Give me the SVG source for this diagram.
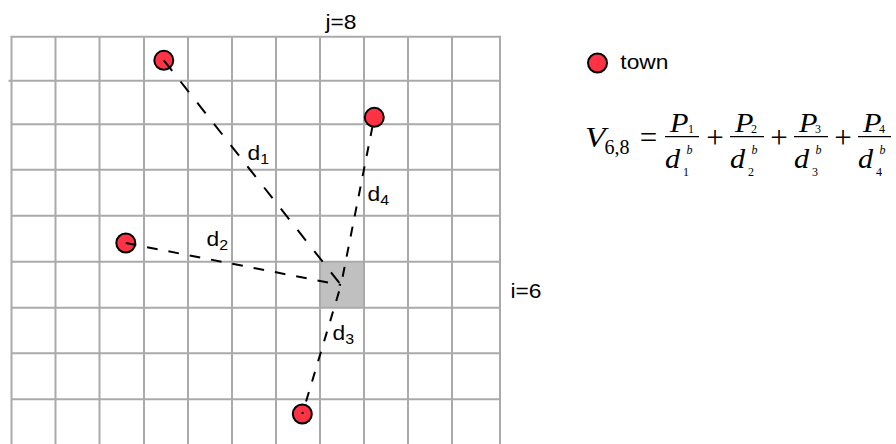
<svg xmlns="http://www.w3.org/2000/svg" width="896" height="444" viewBox="0 0 896 444">
<style>
.grid{stroke:#aaaaaa;stroke-width:2;fill:none}
.town{fill:#ff3344;stroke:#000;stroke-width:2}
.dist{stroke:#000;stroke-width:2;fill:none}
.lbl{font-family:"Liberation Sans",Arial,sans-serif;font-size:20px;fill:#000}
.sub{font-size:14px}
.mi{font-family:"Liberation Serif","Times New Roman",serif;font-style:italic;fill:#000}
.mr{font-family:"Liberation Serif","Times New Roman",serif;fill:#000}
.big{font-size:27px}
.sm{font-size:12px}
.bar{stroke:#000;stroke-width:1.3}
</style>
<rect width="896" height="444" fill="#fff"/>
<g id="grid">
<rect x="320" y="262" width="44" height="46" fill="#c0c0c0"/>
<path class="grid" d="M11.5,36.7V444M55.5,36.7V444M99.5,36.7V444M144,36.7V444M188,36.7V444M232,36.7V444M276,36.7V444M320,36.7V444M364,36.7V444M408,36.7V444M452,36.7V444M500,36.7V444
M10.5,36.7H501M8.5,80.7H501M10.5,124.3H501M10.5,169.7H501M10.5,215.7H501M10.5,261.7H501M10.5,307.7H501M10.5,353.3H501M10.5,399.3H501"/>
</g>
<g id="town1"><circle class="town" cx="163.8" cy="60.3" r="9.5"/></g>
<g id="town2"><circle class="town" cx="125.8" cy="243" r="9.5"/></g>
<g id="town3"><circle class="town" cx="302.3" cy="414" r="9.5"/></g>
<g id="town4"><circle class="town" cx="374.3" cy="117.3" r="9.5"/></g>
<g id="connectors">
<path class="dist" d="M163.8,60.3L341,285" stroke-dasharray="13.5,13.5"/>
<path class="dist" d="M125.8,243L341,285" stroke-dasharray="10.7,11"/>
<path class="dist" d="M302.3,414L341,285" stroke-dasharray="10,11" stroke-dashoffset="8"/>
<path class="dist" d="M374.3,117.3L341,285" stroke-dasharray="10,10.5" stroke-dashoffset="11.5"/>
</g>
<g id="labels">
<text class="lbl" transform="translate(325.5,29.3) scale(1.14,1)">j=8</text>
<text class="lbl" transform="translate(510.5,298) scale(1.14,1)">i=6</text>
<text class="lbl" transform="translate(247.5,159.5) scale(1.14,1)">d<tspan class="sub" dy="4">1</tspan></text>
<text class="lbl" transform="translate(206.6,246) scale(1.14,1)">d<tspan class="sub" dy="4">2</tspan></text>
<text class="lbl" transform="translate(332.6,340) scale(1.14,1)">d<tspan class="sub" dy="4">3</tspan></text>
<text class="lbl" transform="translate(367.6,201) scale(1.14,1)">d<tspan class="sub" dy="4">4</tspan></text>
</g>
<g id="legend">
<circle class="town" cx="597.5" cy="63" r="9.5"/>
<text class="lbl" transform="translate(620.3,69.3) scale(1.14,1)">town</text>
</g>
<g id="formula">
<text class="mi" transform="translate(585,147) scale(1.12,1)" font-size="30">V</text>
<text class="mr" x="604.5" y="154" font-size="20">6,8</text>
<text class="mr" x="648.5" y="147.5" font-size="31" text-anchor="middle">=</text>
<text class="mr" x="715" y="148.3" font-size="31" text-anchor="middle">+</text>
<text class="mr" x="779" y="148.3" font-size="31" text-anchor="middle">+</text>
<text class="mr" x="843" y="148.3" font-size="31" text-anchor="middle">+</text>
<g id="frac1">
<line class="bar" x1="665" y1="136.7" x2="699" y2="136.7"/>
<text class="mi big" transform="translate(670,132) scale(1.12,1)">P</text>
<text class="mr sm" x="688" y="132.5">1</text>
<text class="mi big" transform="translate(665,168) scale(1.12,1)">d</text>
<text class="mi sm" x="686.5" y="154">b</text>
<text class="mr sm" x="683" y="176">1</text>
</g>
<g id="frac2">
<line class="bar" x1="730" y1="136.7" x2="764" y2="136.7"/>
<text class="mi big" transform="translate(735,132) scale(1.12,1)">P</text>
<text class="mr sm" x="751" y="132.5">2</text>
<text class="mi big" transform="translate(730,168) scale(1.12,1)">d</text>
<text class="mi sm" x="751.5" y="154">b</text>
<text class="mr sm" x="748" y="176">2</text>
</g>
<g id="frac3">
<line class="bar" x1="794" y1="136.7" x2="828" y2="136.7"/>
<text class="mi big" transform="translate(799,132) scale(1.12,1)">P</text>
<text class="mr sm" x="815" y="132.5">3</text>
<text class="mi big" transform="translate(794,168) scale(1.12,1)">d</text>
<text class="mi sm" x="815.5" y="154">b</text>
<text class="mr sm" x="812" y="176">3</text>
</g>
<g id="frac4">
<line class="bar" x1="858" y1="136.7" x2="891" y2="136.7"/>
<text class="mi big" transform="translate(863,132) scale(1.12,1)">P</text>
<text class="mr sm" x="879" y="132.5">4</text>
<text class="mi big" transform="translate(858,168) scale(1.12,1)">d</text>
<text class="mi sm" x="879.5" y="154">b</text>
<text class="mr sm" x="876" y="176">4</text>
</g>
</g>
</svg>
